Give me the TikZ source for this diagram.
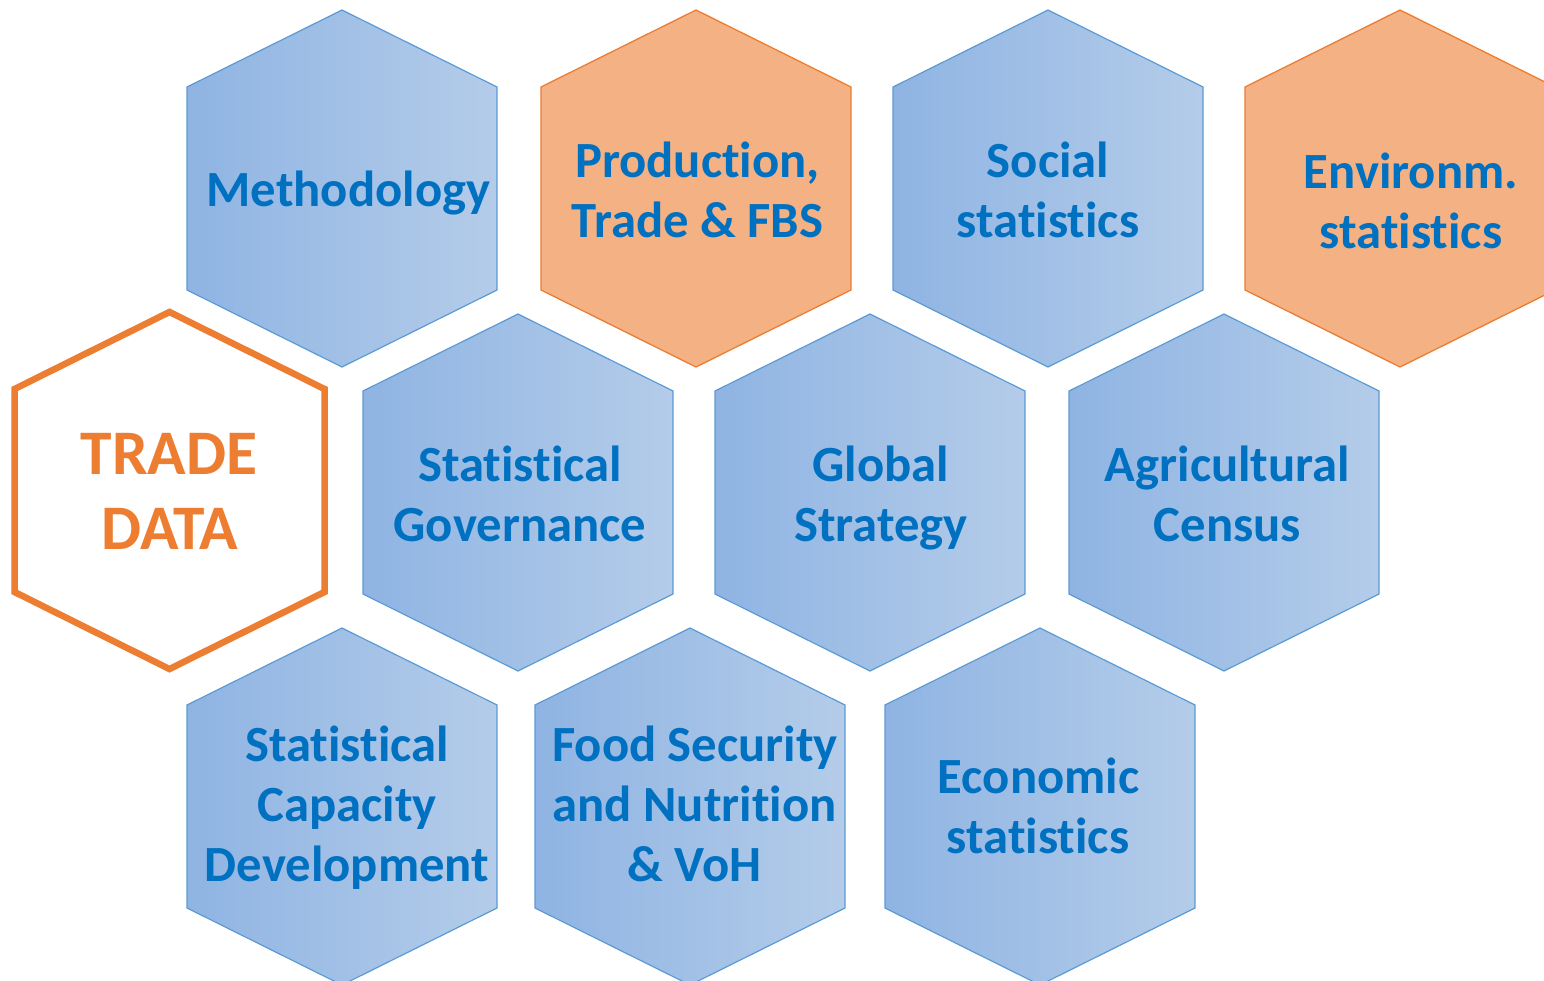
\documentclass[tikz,border=0pt]{standalone}
\usepackage{fontspec}
\setmainfont[Ligatures={NoCommon}]{Carlito}
\definecolor{hexblueL}{HTML}{8FB4E3}
\definecolor{hexblueR}{HTML}{B4CCE9}
\definecolor{hexline}{HTML}{5B9BD5}
\definecolor{orfill}{HTML}{F4B183}
\definecolor{orline}{HTML}{ED7D31}
\definecolor{txtblue}{HTML}{0070C0}
\tikzset{
  bluehex/.style={draw=hexline, line width=1.2pt, left color=hexblueL, right color=hexblueR},
  orhex/.style={draw=orline, line width=1.3pt, fill=orfill},
  tradehex/.style={draw=orline, line width=6.5pt, fill=white, line join=miter},
  lbl/.style={font=\fontsize{50.7}{60}\selectfont\bfseries, text=txtblue, anchor=base, inner sep=0pt},
  tlbl/.style={font=\fontsize{63.5}{75}\selectfont\bfseries, text=orline, anchor=base, inner sep=0pt}
}
\newcommand{\hexpath}[3]{%
  \path[#3] (#1,#2-178.5) -- (#1+155,#2-101.5) -- (#1+155,#2+101.5) -- (#1,#2+178.5) -- (#1-155,#2+101.5) -- (#1-155,#2-101.5) -- cycle;}
\begin{document}
\begin{tikzpicture}[x=1pt,y=-1pt]
\clip (0,0) rectangle (1544,980);
\fill[white] (0,0) rectangle (1544,980);
% row 1
\hexpath{342}{188.5}{bluehex}
\hexpath{696}{188.5}{orhex}
\hexpath{1048}{188.5}{bluehex}
\hexpath{1400}{188.5}{orhex}
% row 2
\hexpath{169.5}{490.5}{tradehex}
\hexpath{518}{492.5}{bluehex}
\hexpath{870}{492.5}{bluehex}
\hexpath{1224}{492.5}{bluehex}
% row 3
\hexpath{342}{806.5}{bluehex}
\hexpath{690}{806.5}{bluehex}
\hexpath{1040}{806.5}{bluehex}
% labels
\node[lbl] (meth) at (348.5,206) {Methodology};
\node[lbl] (prodA) at (697.5,177) {Production,};
\node[lbl] (prodB) at (697.5,237) {Trade \& FBS};
\node[lbl] (socA) at (1048,177) {Social};
\node[lbl] (socB) at (1048,237) {statistics};
\node[lbl] (envA) at (1411,188) {Environm.};
\node[lbl] (envB) at (1411,248) {statistics};
\node[tlbl] (tradeA) at (169,474) {TRADE};
\node[tlbl] (tradeB) at (170,549) {DATA};
\node[lbl] (govA) at (520,481) {Statistical};
\node[lbl] (govB) at (520,541) {Governance};
\node[lbl] (gsA) at (881,481) {Global};
\node[lbl] (gsB) at (881,541) {Strategy};
\node[lbl] (agA) at (1227.5,481) {Agricultural};
\node[lbl] (agB) at (1227.5,541) {Census};
\node[lbl] (capA) at (347,761) {Statistical};
\node[lbl] (capB) at (347,821) {Capacity};
\node[lbl] (capC) at (347,881) {Development};
\node[lbl] (fsA) at (695,761) {Food Security};
\node[lbl] (fsB) at (694.5,821) {and Nutrition};
\node[lbl] (fsC) at (694.5,881) {\& VoH};
\node[lbl] (ecoA) at (1038.5,793) {Economic};
\node[lbl] (ecoB) at (1038,853) {statistics};
\end{tikzpicture}
\end{document}
